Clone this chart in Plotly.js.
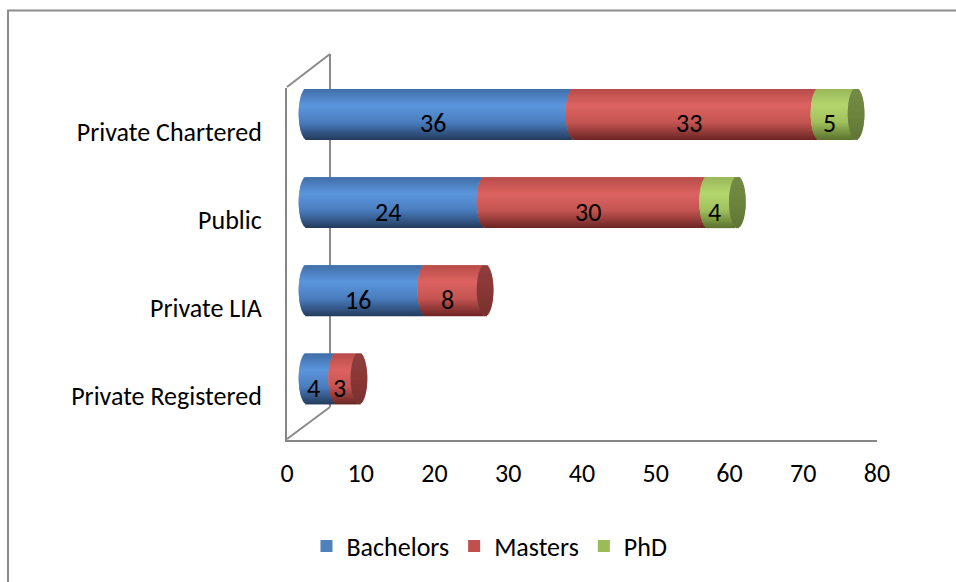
<!DOCTYPE html>
<html>
<head>
<meta charset="utf-8">
<script src="https://cdn.plot.ly/plotly-3.0.1.min.js"></script>
<style>
  html, body { margin: 0; padding: 0; background: #ffffff; }
  #chart { width: 956px; height: 582px; }
</style>
</head>
<body>
<div id="chart"></div>
<script>
// Enrolment by institution type and degree level
const categories = ['Private Registered', 'Private LIA', 'Public', 'Private Chartered'];
const bachelors  = [4, 16, 24, 36];
const masters    = [3, 8, 30, 33];
const phd        = [0, 0, 4, 5];

const seriesNames = ['Bachelors', 'Masters', 'PhD'];
const seriesValues = [bachelors, masters, phd];

// Cylinder shading: colour stops from the top edge (t=+1) to the bottom edge (t=-1)
const palette = [
  { base: '#4f81bd', cap: '#3c6395',
    stops: [[1, '#416ea8'], [0.35, '#5c96dd'], [-0.3, '#4a7dbe'], [-1, '#233b5c']] },
  { base: '#c0504d', cap: '#893836',
    stops: [[1, '#b84c4a'], [0.35, '#dc6361'], [-0.3, '#c55552'], [-1, '#6a2524']] },
  { base: '#9bbb59', cap: '#6d853f',
    stops: [[1, '#99b85a'], [0.35, '#b4d66e'], [-0.3, '#a0c05d'], [-1, '#5b722d']] }
];

function hexToRgb(h) {
  const n = parseInt(h.slice(1), 16);
  return [(n >> 16) & 255, (n >> 8) & 255, n & 255];
}
function mix(c1, c2, f) {
  const a = hexToRgb(c1), b = hexToRgb(c2);
  const r = a.map((v, i) => Math.round(v + (b[i] - v) * f));
  return 'rgb(' + r.join(',') + ')';
}
function shade(stops, t) {
  for (let i = 0; i < stops.length - 1; i++) {
    const [t0, c0] = stops[i], [t1, c1] = stops[i + 1];
    if (t <= t0 && t >= t1) return mix(c0, c1, (t0 - t) / (t0 - t1));
  }
  return stops[stops.length - 1][1];
}
function darken(hex, f) { return mix(hex, '#000000', f); }
function lighten(hex, f) { return mix(hex, '#ffffff', f); }

// Geometry of the cylinders (in axis units of the bar plane)
const PX_PER_UNIT = 7.42;
const STRIPS = 40;
const THICK = 0.578;        // bar thickness, category units
const CAP = 1.12;           // horizontal half-width of the end ellipse, value units

// cumulative starts of every segment
const starts = seriesValues.map(() => categories.map(() => 0));
const totals = categories.map(() => 0);
categories.forEach((c, j) => {
  let acc = 0;
  seriesValues.forEach((vals, i) => { starts[i][j] = acc; acc += vals[j] || 0; });
  totals[j] = acc;
});
const lastSeries = categories.map((c, j) => {
  let last = 0;
  seriesValues.forEach((vals, i) => { if (vals[j]) last = i; });
  return last;
});

const traces = [];
const stripW = THICK / STRIPS;

// one thin horizontal strip; each strip reaches into the next one above so no seams show
function strip(k) {
  const lower = -THICK / 2 + k * stripW;
  const tc = (lower + stripW / 2) / (THICK / 2);
  const s = Math.sqrt(Math.max(0, 1 - tc * tc));
  const w = k === STRIPS - 1 ? stripW : stripW * 2;
  return { lower, tc, s, w };
}

// body of each segment, built from strips so the ends follow an ellipse
seriesValues.forEach((vals, i) => {
  for (let k = 0; k < STRIPS; k++) {
    const g = strip(k);
    traces.push({
      type: 'bar', orientation: 'h',
      y: categories,
      x: vals.map(v => v ? v : null),
      base: starts[i].map(b => b - CAP * g.s),
      width: g.w, offset: g.lower,
      xaxis: 'x2', yaxis: 'y2',
      marker: { color: shade(palette[i].stops, g.tc), line: { width: 0 } },
      showlegend: false, hoverinfo: 'skip'
    });
  }
});

// end face of each stack
for (let k = 0; k < STRIPS; k++) {
  const g = strip(k);
  const f = (1 - g.tc) / 2; // 0 at top, 1 at bottom
  traces.push({
    type: 'bar', orientation: 'h',
    y: categories,
    x: totals.map(() => 2 * CAP * g.s),
    base: totals.map(t => t - CAP * g.s),
    width: g.w, offset: g.lower,
    xaxis: 'x2', yaxis: 'y2',
    marker: {
      color: lastSeries.map(i => f < 0.5 ? lighten(palette[i].cap, 0.08 * (0.5 - f))
                                          : darken(palette[i].cap, 0.25 * (f - 0.5))),
      line: { width: 0 }
    },
    showlegend: false, hoverinfo: 'skip'
  });
}

// legend entries
seriesNames.forEach((name, i) => {
  traces.push({
    type: 'bar', orientation: 'h', name: name,
    y: [categories[0]], x: [0], base: [0],
    xaxis: 'x', yaxis: 'y',
    marker: { color: palette[i].base, line: { width: 0 } },
    hoverinfo: 'skip'
  });
});

const font = { family: 'Carlito, Lato, sans-serif', size: 26, color: '#000000' };

// value labels
const annotations = [];
seriesValues.forEach((vals, i) => {
  vals.forEach((v, j) => {
    if (!v) return;
    annotations.push({
      xref: 'x2', yref: 'y2',
      x: starts[i][j] + v / 2, y: categories[j],
      text: String(v), showarrow: false,
      xshift: -8, yshift: -9,
      font: font
    });
  });
});

// plot-area pixel helpers for the frame and the back wall
const L = 287, R = 877, T = 88, B = 440;
const px = x => (x - L) / (R - L);
const py = y => (B - y) / (B - T);
const wall = { color: '#8a8a8a', width: 2 };

const shapes = [
  { type: 'rect', xref: 'paper', yref: 'paper', layer: 'below',
    x0: px(8), x1: px(970), y0: py(600), y1: py(10.5),
    line: { color: '#8c8c8c', width: 2 }, fillcolor: 'rgba(0,0,0,0)' },
  { type: 'line', xref: 'paper', yref: 'paper', layer: 'below',
    x0: px(287), y0: py(87), x1: px(330), y1: py(54), line: wall },
  { type: 'line', xref: 'paper', yref: 'paper', layer: 'below',
    x0: px(330), y0: py(54), x1: px(330), y1: py(407), line: wall },
  { type: 'line', xref: 'paper', yref: 'paper', layer: 'below',
    x0: px(330), y0: py(407), x1: px(287), y1: py(439), line: wall }
];

const layout = {
  width: 956, height: 582,
  margin: { l: L, r: 956 - R, t: T, b: 582 - B, pad: 0 },
  paper_bgcolor: '#ffffff', plot_bgcolor: 'rgba(0,0,0,0)',
  font: font,
  barmode: 'overlay',
  showlegend: true,
  legend: {
    orientation: 'h', xref: 'container', yref: 'container',
    x: 0.512, xanchor: 'center', y: 1 - 546 / 582, yanchor: 'middle',
    itemwidth: 30, font: font, traceorder: 'normal'
  },
  xaxis: {
    range: [0, 80], dtick: 10, tick0: 0,
    showline: true, linecolor: '#868686', linewidth: 2,
    showgrid: false, zeroline: false, ticks: '', ticklabelstandoff: 9,
    tickfont: font, fixedrange: true
  },
  yaxis: {
    type: 'category', categoryorder: 'array', categoryarray: categories,
    range: [-0.5, 3.5],
    showline: true, linecolor: '#868686', linewidth: 2,
    showgrid: false, zeroline: false, ticks: '', ticklabelstandoff: 18,
    tickfont: font, fixedrange: true
  },
  xaxis2: {
    overlaying: 'x', anchor: 'y2',
    range: [-20 / PX_PER_UNIT, (R - L - 20) / PX_PER_UNIT],
    visible: false, fixedrange: true
  },
  yaxis2: {
    overlaying: 'y', anchor: 'x2',
    type: 'category', categoryorder: 'array', categoryarray: categories,
    range: [-0.692, 3.30],
    visible: false, fixedrange: true
  },
  shapes: shapes,
  annotations: annotations
};

Plotly.newPlot('chart', traces, layout, { displayModeBar: false, staticPlot: true });
</script>
</body>
</html>
